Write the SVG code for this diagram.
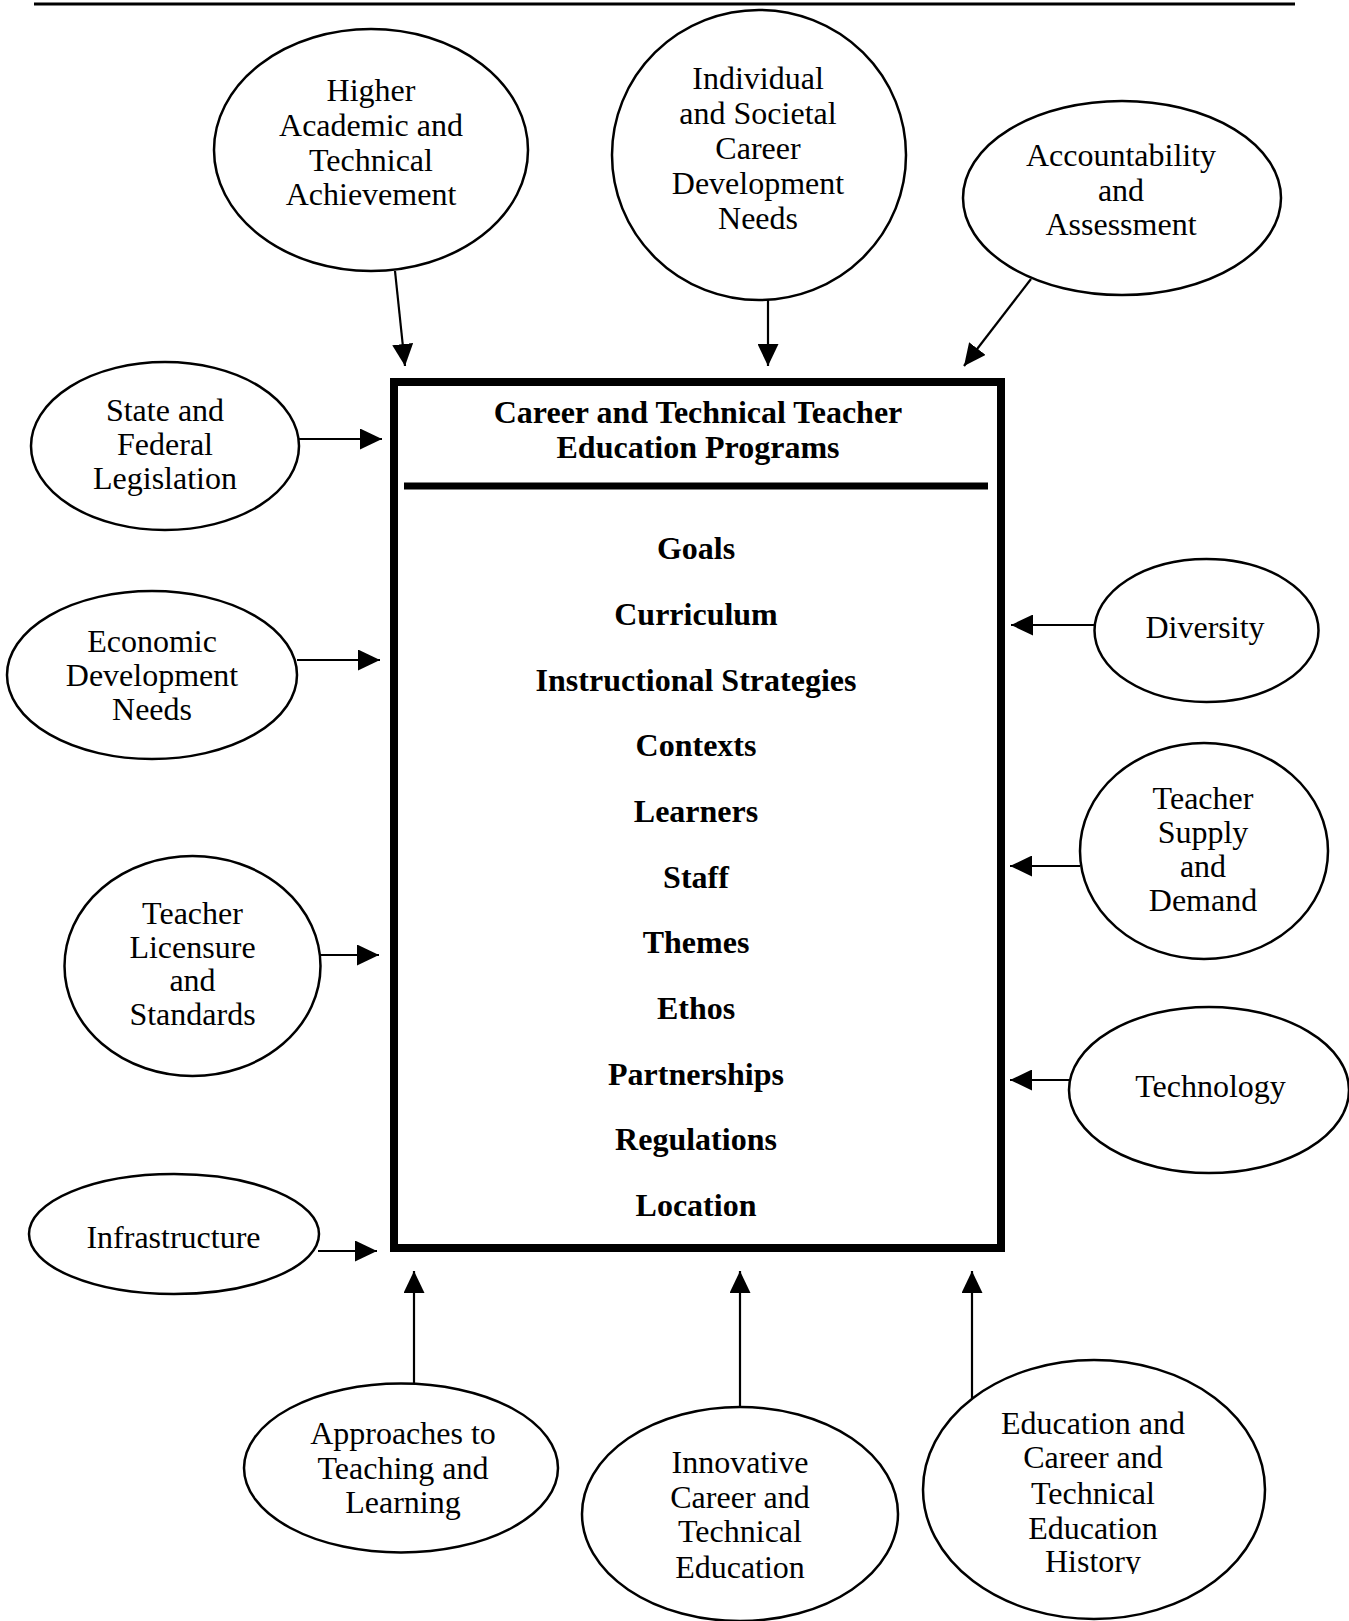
<svg xmlns="http://www.w3.org/2000/svg" width="1349" height="1621" viewBox="0 0 1349 1621">
<style>
  .n { fill: #fff; stroke: #000; stroke-width: 2.5; }
  .t { font-family: "Liberation Serif", "Times New Roman", serif; font-size: 32px; fill: #000; text-anchor: middle; }
  .b { font-weight: bold; }
  .c { stroke: #000; stroke-width: 2.2; fill: none; marker-end: url(#ah); }
</style>
<defs>
  <marker id="ah" viewBox="0 0 22 21" refX="22" refY="10.5" markerWidth="22" markerHeight="21" markerUnits="userSpaceOnUse" orient="auto">
    <path d="M0,0 L22,10.5 L0,21 Z" fill="#000"/>
  </marker>
  <clipPath id="histclip"><rect x="1000" y="1540" width="200" height="34"/></clipPath>
</defs>
<rect width="1349" height="1621" fill="#fff"/>
<line x1="34" y1="4" x2="1295" y2="4" stroke="#000" stroke-width="3"/>

<g id="connectors">
  <line class="c" x1="395" y1="271" x2="405" y2="366"/>
  <line class="c" x1="768" y1="300" x2="768" y2="366"/>
  <line class="c" x1="1031" y1="279" x2="964" y2="366"/>
  <line class="c" x1="298" y1="439" x2="382" y2="439"/>
  <line class="c" x1="297" y1="660" x2="380" y2="660"/>
  <line class="c" x1="320" y1="955" x2="379" y2="955"/>
  <line class="c" x1="318" y1="1251" x2="377" y2="1251"/>
  <line class="c" x1="1095" y1="625" x2="1011" y2="625"/>
  <line class="c" x1="1080" y1="866" x2="1010" y2="866"/>
  <line class="c" x1="1070" y1="1080" x2="1010" y2="1080"/>
  <line class="c" x1="414" y1="1384" x2="414" y2="1271"/>
  <line class="c" x1="740" y1="1407" x2="740" y2="1271"/>
  <line class="c" x1="972" y1="1398" x2="972" y2="1271"/>
</g>

<g id="main">
  <rect x="394" y="382" width="607" height="866" fill="none" stroke="#000" stroke-width="8"/>
  <line x1="404" y1="486" x2="988" y2="486" stroke="#000" stroke-width="7"/>
  <text class="t b" x="698" y="423">Career and Technical Teacher</text>
  <text class="t b" x="698" y="458">Education Programs</text>
  <text class="t b" x="696" y="559">Goals</text>
  <text class="t b" x="696" y="625">Curriculum</text>
  <text class="t b" x="696" y="691">Instructional Strategies</text>
  <text class="t b" x="696" y="756">Contexts</text>
  <text class="t b" x="696" y="822">Learners</text>
  <text class="t b" x="696" y="888">Staff</text>
  <text class="t b" x="696" y="953">Themes</text>
  <text class="t b" x="696" y="1019">Ethos</text>
  <text class="t b" x="696" y="1085">Partnerships</text>
  <text class="t b" x="696" y="1150">Regulations</text>
  <text class="t b" x="696" y="1216">Location</text>
</g>

<g id="higher">
  <ellipse class="n" cx="371" cy="150" rx="157" ry="121"/>
  <text class="t" x="371" y="101">Higher</text>
  <text class="t" x="371" y="136">Academic and</text>
  <text class="t" x="371" y="171">Technical</text>
  <text class="t" x="371" y="205">Achievement</text>
</g>
<g id="individual">
  <ellipse class="n" cx="759" cy="155" rx="147" ry="145"/>
  <text class="t" x="758" y="89">Individual</text>
  <text class="t" x="758" y="124">and Societal</text>
  <text class="t" x="758" y="159">Career</text>
  <text class="t" x="758" y="194">Development</text>
  <text class="t" x="758" y="229">Needs</text>
</g>
<g id="accountability">
  <ellipse class="n" cx="1122" cy="198" rx="159" ry="97"/>
  <text class="t" x="1121" y="166">Accountability</text>
  <text class="t" x="1121" y="201">and</text>
  <text class="t" x="1121" y="235">Assessment</text>
</g>
<g id="state">
  <ellipse class="n" cx="165" cy="446" rx="134" ry="84"/>
  <text class="t" x="165" y="421">State and</text>
  <text class="t" x="165" y="455">Federal</text>
  <text class="t" x="165" y="489">Legislation</text>
</g>
<g id="economic">
  <ellipse class="n" cx="152" cy="675" rx="145" ry="84"/>
  <text class="t" x="152" y="652">Economic</text>
  <text class="t" x="152" y="686">Development</text>
  <text class="t" x="152" y="720">Needs</text>
</g>
<g id="licensure">
  <ellipse class="n" cx="192.5" cy="966" rx="128" ry="110"/>
  <text class="t" x="192.5" y="924">Teacher</text>
  <text class="t" x="192.5" y="958">Licensure</text>
  <text class="t" x="192.5" y="991">and</text>
  <text class="t" x="192.5" y="1025">Standards</text>
</g>
<g id="infrastructure">
  <ellipse class="n" cx="174" cy="1234" rx="145" ry="60"/>
  <text class="t" x="173.5" y="1248">Infrastructure</text>
</g>
<g id="diversity">
  <ellipse class="n" cx="1206.5" cy="630.5" rx="112" ry="71.5"/>
  <text class="t" x="1205" y="638">Diversity</text>
</g>
<g id="supply">
  <ellipse class="n" cx="1204" cy="851" rx="124" ry="108"/>
  <text class="t" x="1203" y="809">Teacher</text>
  <text class="t" x="1203" y="843">Supply</text>
  <text class="t" x="1203" y="877">and</text>
  <text class="t" x="1203" y="911">Demand</text>
</g>
<g id="technology">
  <ellipse class="n" cx="1209" cy="1090" rx="140" ry="83"/>
  <text class="t" x="1210.5" y="1097">Technology</text>
</g>
<g id="approaches">
  <ellipse class="n" cx="401" cy="1468" rx="157" ry="84.5"/>
  <text class="t" x="403" y="1444">Approaches to</text>
  <text class="t" x="403" y="1479">Teaching and</text>
  <text class="t" x="403" y="1513">Learning</text>
</g>
<g id="innovative">
  <ellipse class="n" cx="740" cy="1514" rx="158" ry="107"/>
  <text class="t" x="740" y="1473">Innovative</text>
  <text class="t" x="740" y="1508">Career and</text>
  <text class="t" x="740" y="1542">Technical</text>
  <text class="t" x="740" y="1578">Education</text>
</g>
<g id="history">
  <ellipse class="n" cx="1094" cy="1489.5" rx="171" ry="129.5"/>
  <text class="t" x="1093" y="1434">Education and</text>
  <text class="t" x="1093" y="1468">Career and</text>
  <text class="t" x="1093" y="1504">Technical</text>
  <text class="t" x="1093" y="1539">Education</text>
  <text class="t" x="1093" y="1572" clip-path="url(#histclip)">History</text>
</g>
</svg>
